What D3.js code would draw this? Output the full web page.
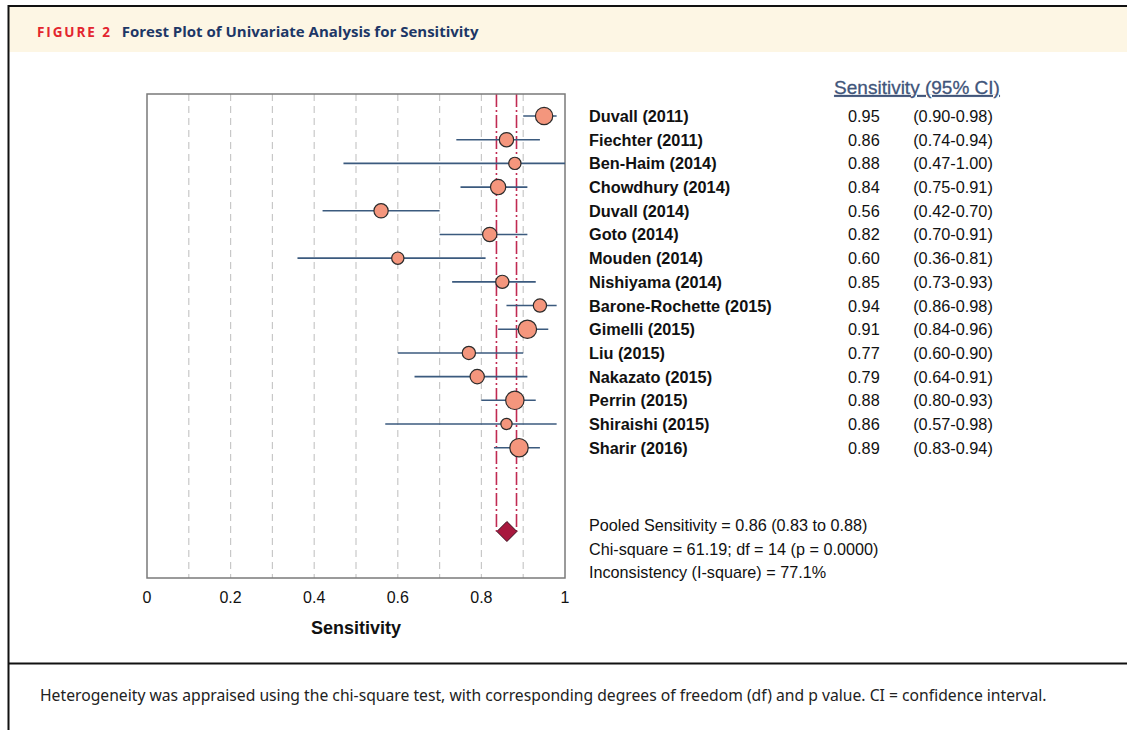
<!DOCTYPE html>
<meta charset="utf-8">
<style>
body { margin: 0; background: #fff; }
svg text { font-family: "Liberation Sans", Arial, sans-serif; }
.grid line { stroke: #c8c8c8; stroke-width: 1.2; stroke-dasharray: 7,5; }
.ci { stroke: #3b5a7e; stroke-width: 1.6; }
.pt { fill: #f4967d; stroke: #2b2b2b; stroke-width: 1.2; }
.pooled-line { stroke: #c02a52; stroke-width: 1.6; stroke-dasharray: 13,3,2,3; }
</style>
<svg width="1127" height="730"></svg>
<script src="https://d3js.org/d3.v7.min.js"></script>
<script>

// studies, point estimates, CIs, relative weights (marker area)
var studies = ["Duvall (2011)", "Fiechter (2011)", "Ben-Haim (2014)", "Chowdhury (2014)",
  "Duvall (2014)", "Goto (2014)", "Mouden (2014)", "Nishiyama (2014)",
  "Barone-Rochette (2015)", "Gimelli (2015)", "Liu (2015)", "Nakazato (2015)",
  "Perrin (2015)", "Shiraishi (2015)", "Sharir (2016)"];
var sens  = [0.95, 0.86, 0.88, 0.84, 0.56, 0.82, 0.60, 0.85, 0.94, 0.91, 0.77, 0.79, 0.88, 0.86, 0.89];
var lower = [0.90, 0.74, 0.47, 0.75, 0.42, 0.70, 0.36, 0.73, 0.86, 0.84, 0.60, 0.64, 0.80, 0.57, 0.83];
var upper = [0.98, 0.94, 1.00, 0.91, 0.70, 0.91, 0.81, 0.93, 0.98, 0.96, 0.90, 0.91, 0.93, 0.98, 0.94];
var weights = [72, 49, 36, 56, 49, 49, 36, 42, 42, 81, 42, 49, 81, 30, 81];

// pooled estimate as drawn (unrounded)
var pooled = {est: 0.861, lo: 0.836, hi: 0.884};
var statsLines = ["Pooled Sensitivity = 0.86 (0.83 to 0.88)",
  "Chi-square = 61.19; df = 14 (p = 0.0000)",
  "Inconsistency (I-square) = 77.1%"];
var xTicks = [0, 0.2, 0.4, 0.6, 0.8, 1];
var gridTicks = [0.1, 0.2, 0.3, 0.4, 0.5, 0.6, 0.7, 0.8, 0.9];

var svg = d3.select("svg");

/* frame and header */
svg.append("rect").attr("x", 8).attr("y", 6).attr("width", 1130).attr("height", 46)
  .attr("fill", "#fdf6e4");
svg.append("line").attr("x1", 8).attr("x2", 1127).attr("y1", 6).attr("y2", 6)
  .attr("stroke", "#111").attr("stroke-width", 2);
svg.append("line").attr("x1", 8.5).attr("x2", 8.5).attr("y1", 5).attr("y2", 730)
  .attr("stroke", "#111").attr("stroke-width", 2);
svg.append("line").attr("x1", 8).attr("x2", 1127).attr("y1", 663.5).attr("y2", 663.5)
  .attr("stroke", "#111").attr("stroke-width", 2);

var head = svg.append("text").attr("x", 37).attr("y", 37)
  .style("font-family", "'Open Sans', 'Noto Sans', sans-serif").style("font-weight", "bold");
head.append("tspan").text("FIGURE 2").attr("fill", "#e3262f")
  .style("font-size", "13.5px").style("letter-spacing", "1.9px");
head.append("tspan").text("Forest Plot of Univariate Analysis for Sensitivity")
  .attr("dx", 10).attr("fill", "#1d3766").style("font-size", "15px");

svg.append("text").attr("x", 40).attr("y", 701)
  .style("font-family", "'Noto Sans', 'Open Sans', sans-serif").style("font-size", "15.7px")
  .attr("fill", "#222")
  .text("Heterogeneity was appraised using the chi-square test, with corresponding degrees of freedom (df) and p value. CI = confidence interval.");

/* scales */
var x = d3.scaleLinear().domain([0, 1]).range([147, 565]);
var y = d3.scalePoint().domain(studies).range([116, 447.7]);
var r = d3.scaleSqrt().domain([0, 81]).range([0, 9.2]);
var plotTop = 94, plotBottom = 578, diamondY = 531.5;

/* gridlines */
svg.append("g").attr("class", "grid")
  .selectAll("line").data(gridTicks).enter().append("line")
    .attr("x1", function(d) { return x(d); }).attr("x2", function(d) { return x(d); })
    .attr("y1", plotTop).attr("y2", plotBottom);

/* pooled CI lines */
svg.selectAll(".pooled-line").data([pooled.lo, pooled.hi]).enter().append("line")
  .attr("class", "pooled-line")
  .attr("x1", function(d) { return x(d); }).attr("x2", function(d) { return x(d); })
  .attr("y1", plotTop).attr("y2", diamondY);

/* plot box */
svg.append("rect").attr("x", x(0)).attr("y", plotTop)
  .attr("width", x(1) - x(0)).attr("height", plotBottom - plotTop)
  .attr("fill", "none").attr("stroke", "#7a7a7a").attr("stroke-width", 1.5);

/* CI segments and points */
var rows = svg.append("g").selectAll("g").data(studies).enter().append("g");
rows.append("line").attr("class", "ci")
  .attr("x1", function(d, i) { return x(lower[i]); })
  .attr("x2", function(d, i) { return x(upper[i]); })
  .attr("y1", function(d) { return y(d); }).attr("y2", function(d) { return y(d); });
rows.append("circle").attr("class", "pt")
  .attr("cx", function(d, i) { return x(sens[i]); })
  .attr("cy", function(d) { return y(d); })
  .attr("r", function(d, i) { return r(weights[i]); });

/* pooled diamond */
svg.append("path")
  .attr("d", "M" + (x(pooled.est) - 10) + "," + diamondY + "L" + x(pooled.est) + "," + (diamondY - 10) +
    "L" + (x(pooled.est) + 10) + "," + diamondY + "L" + x(pooled.est) + "," + (diamondY + 10) + "Z")
  .attr("fill", "#a8183e").attr("stroke", "#3a1020").attr("stroke-width", 1);

/* x axis labels */
svg.append("g").selectAll("text").data(xTicks).enter().append("text")
  .attr("x", function(d) { return x(d); }).attr("y", 603)
  .attr("text-anchor", "middle").style("font-size", "16px").attr("fill", "#111")
  .text(function(d) { return d3.format("~g")(d); });
svg.append("text").attr("x", (x(0) + x(1)) / 2).attr("y", 634)
  .attr("text-anchor", "middle").style("font-size", "18px").style("font-weight", "bold")
  .attr("fill", "#111").text("Sensitivity");

/* right-hand table */
svg.append("text").attr("x", 917).attr("y", 94).attr("text-anchor", "middle")
  .style("font-size", "19px").style("text-decoration", "underline").attr("fill", "#41557a")
  .attr("stroke", "#41557a").attr("stroke-width", 0.3)
  .text("Sensitivity (95% CI)");

var tbl = svg.append("g").selectAll("g").data(studies).enter().append("g")
  .attr("transform", function(d) { return "translate(0," + (y(d) + 6) + ")"; });
tbl.append("text").attr("x", 589).style("font-size", "16.3px").style("font-weight", "bold")
  .attr("fill", "#111").text(function(d) { return d; });
tbl.append("text").attr("x", 848).style("font-size", "16.3px").attr("fill", "#111")
  .text(function(d, i) { return sens[i].toFixed(2); });
tbl.append("text").attr("x", 953).attr("text-anchor", "middle").style("font-size", "16.3px").attr("fill", "#111")
  .text(function(d, i) { return "(" + lower[i].toFixed(2) + "-" + upper[i].toFixed(2) + ")"; });

svg.append("g").selectAll("text").data(statsLines).enter().append("text")
  .attr("x", 589).attr("y", function(d, i) { return 531 + i * 23.5; })
  .style("font-size", "16.2px").attr("fill", "#111")
  .text(function(d) { return d; });

</script>
